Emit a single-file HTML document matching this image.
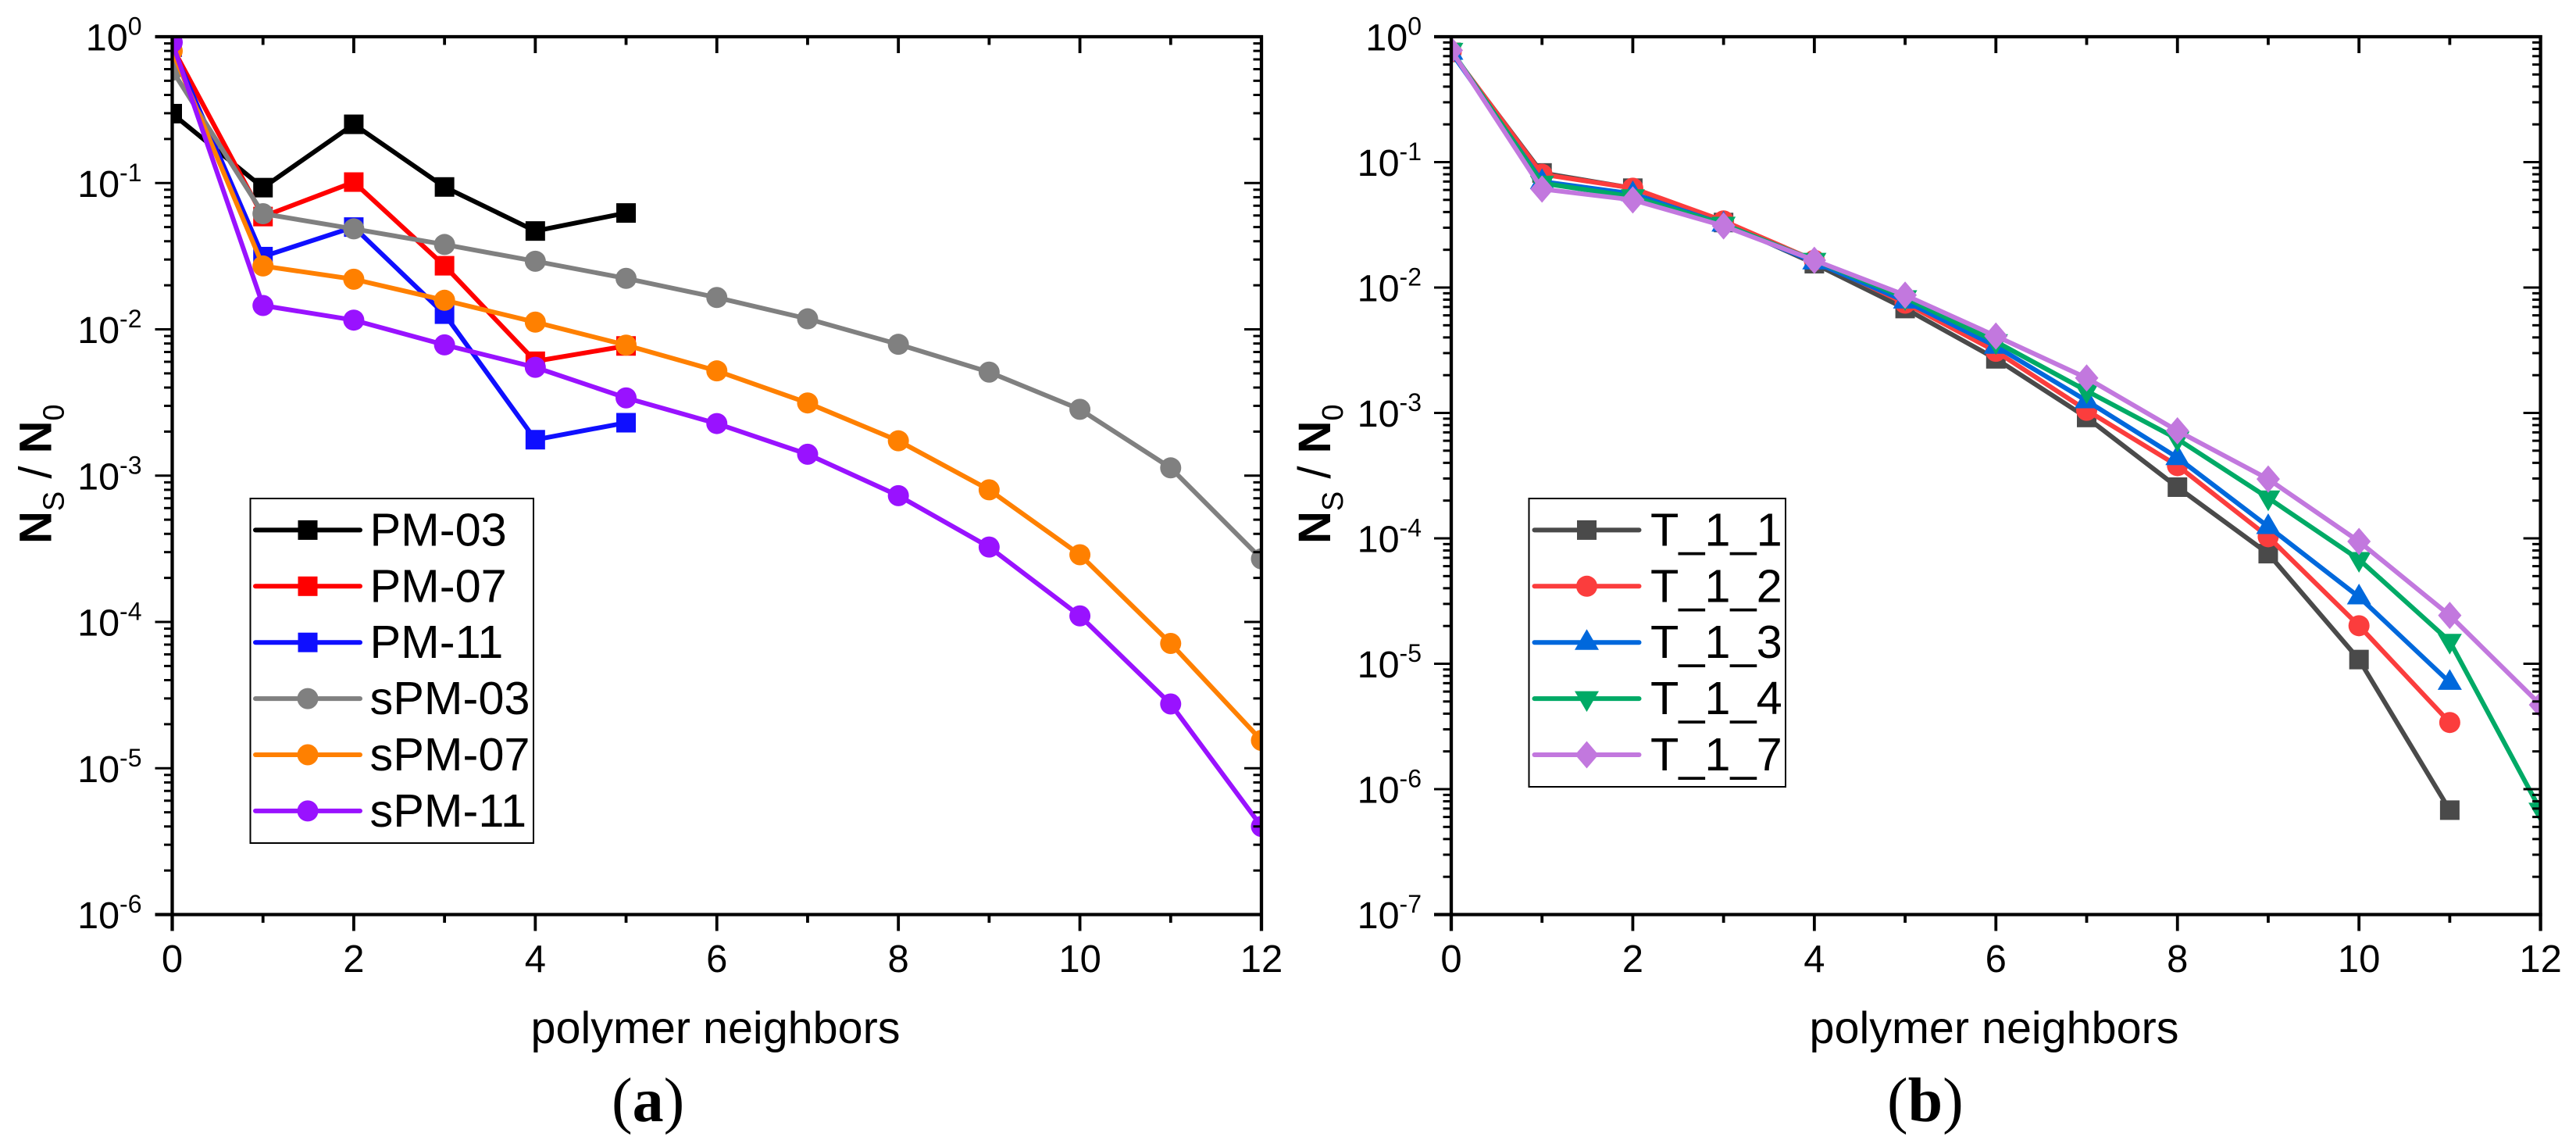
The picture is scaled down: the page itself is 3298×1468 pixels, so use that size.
<!DOCTYPE html>
<html lang="en">
<head>
<meta charset="utf-8">
<title>Polymer neighbors distribution</title>
<style>
html,body{margin:0;padding:0;background:#fff;width:3298px;height:1468px;overflow:hidden}
svg{display:block;font-family:"Liberation Sans",sans-serif}
</style>
</head>
<body>
<svg id="figure" xmlns="http://www.w3.org/2000/svg" width="3298" height="1468" viewBox="0 0 3298 1468">
<rect width="3298" height="1468" fill="#ffffff"/>
<g id="panel-a"></g>
<g id="panel-b"></g>
<text transform="translate(65.5,696) rotate(-90)" font-size="58"><tspan font-weight="bold">N</tspan><tspan font-size="38" dy="16">S</tspan><tspan dy="-16"> / </tspan><tspan font-weight="bold">N</tspan><tspan font-size="38" dy="16">0</tspan></text>
<text transform="translate(1703,696) rotate(-90)" font-size="58"><tspan font-weight="bold">N</tspan><tspan font-size="38" dy="16">S</tspan><tspan dy="-16"> / </tspan><tspan font-weight="bold">N</tspan><tspan font-size="38" dy="16">0</tspan></text>
<text x="916" y="1335" font-size="57.5" text-anchor="middle">polymer neighbors</text>
<text x="2553" y="1335" font-size="57.5" text-anchor="middle">polymer neighbors</text>
<text x="783" y="1435" font-size="80" style="font-family:'Liberation Serif',serif">(<tspan font-weight="bold">a</tspan>)</text>
<text x="2416" y="1435" font-size="80" style="font-family:'Liberation Serif',serif">(<tspan font-weight="bold">b</tspan>)</text>
</svg>
<script>
const xTicks = [0, 2, 4, 6, 8, 10, 12];
const xMinorTicks = [1, 3, 5, 7, 9, 11];
const neighbors = [0, 1, 2, 3, 4, 5, 6, 7, 8, 9, 10, 11, 12];

const panelAExponents = [0, -1, -2, -3, -4, -5, -6];
const panelBExponents = [0, -1, -2, -3, -4, -5, -6, -7];

const pm03 = [0.298, 0.093, 0.252, 0.094, 0.047, 0.0624];
const pm07 = [0.85, 0.059, 0.1015, 0.0272, 0.00605, 0.0077];
const pm11 = [0.85, 0.0314, 0.05, 0.0127, 0.00176, 0.0023];
const spm03 = [0.59, 0.0617, 0.0486, 0.038, 0.0292, 0.0223, 0.0165, 0.0118, 0.0079, 0.0051, 0.00284, 0.00113, 0.00027];
const spm07 = [0.8, 0.0271, 0.022, 0.0158, 0.0112, 0.0078, 0.0052, 0.00314, 0.00173, 0.0008, 0.000288, 0.0000713, 0.0000155];
const spm11 = [0.916, 0.01455, 0.01156, 0.00783, 0.0055, 0.0034, 0.00227, 0.0014, 0.00073, 0.000325, 0.00011, 0.0000275, 0.000004];

const t11 = [0.75, 0.082, 0.062, 0.033, 0.0155, 0.0068, 0.0027, 0.00092, 0.000256, 0.0000755, 0.0000108, 0.00000068];
const t12 = [0.76, 0.08, 0.062, 0.034, 0.0165, 0.0075, 0.0031, 0.00105, 0.00038, 0.000103, 0.0000201, 0.0000034];
const t13 = [0.75, 0.07, 0.056, 0.032, 0.016, 0.0078, 0.0034, 0.00125, 0.00044, 0.000124, 0.0000341, 0.0000071];
const t14 = [0.78, 0.068, 0.053, 0.032, 0.0165, 0.0083, 0.0037, 0.0015, 0.00062, 0.00021, 0.0000679, 0.0000151, 0.00000068];
const t17 = [0.78, 0.061, 0.05, 0.031, 0.0165, 0.0087, 0.0041, 0.0019, 0.00072, 0.000297, 0.0000944, 0.0000243, 0.0000047];

const panelANames = ['PM-03', 'PM-07', 'PM-11', 'sPM-03', 'sPM-07', 'sPM-11'];
const panelAValues = [pm03, pm07, pm11, spm03, spm07, spm11];
const panelAColors = ['#000000', '#ff0000', '#0f0fff', '#808080', '#ff8000', '#9912ff'];
const panelAShapes = ['square', 'square', 'square', 'circle', 'circle', 'circle'];

const panelBNames = ['T_1_1', 'T_1_2', 'T_1_3', 'T_1_4', 'T_1_7'];
const panelBValues = [t11, t12, t13, t14, t17];
const panelBColors = ['#4a4a4a', '#fb3d3d', '#0068dc', '#00aa66', '#c278de'];
const panelBShapes = ['square', 'circle', 'triangle-up', 'triangle-down', 'diamond'];

const NS = 'http://www.w3.org/2000/svg';

function mk(tag, attrs, parent) {
  const node = document.createElementNS(NS, tag);
  for (const k in attrs) node.setAttribute(k, attrs[k]);
  parent.appendChild(node);
  return node;
}

function drawMarker(shape, cx, cy, color, parent) {
  let m;
  if (shape === 'square') {
    m = mk('rect', {x: cx - 12.5, y: cy - 12.5, width: 25, height: 25, fill: color}, parent);
  } else if (shape === 'circle') {
    m = mk('circle', {cx: cx, cy: cy, r: 13.5, fill: color}, parent);
  } else if (shape === 'triangle-up') {
    m = mk('polygon', {points: (cx - 15.5) + ',' + (cy + 9.5) + ' ' + (cx + 15.5) + ',' + (cy + 9.5) + ' ' + cx + ',' + (cy - 17), fill: color}, parent);
  } else if (shape === 'triangle-down') {
    m = mk('polygon', {points: (cx - 15.5) + ',' + (cy - 9.5) + ' ' + (cx + 15.5) + ',' + (cy - 9.5) + ' ' + cx + ',' + (cy + 17), fill: color}, parent);
  } else {
    m = mk('polygon', {points: (cx - 15) + ',' + cy + ' ' + cx + ',' + (cy - 17.5) + ' ' + (cx + 15) + ',' + cy + ' ' + cx + ',' + (cy + 17.5), fill: color}, parent);
  }
  
  
  return m;
}

function drawPanel(cfg) {
  const root = document.getElementById(cfg.id);
  const L = cfg.left, R = cfg.right, T = 47, B = 1170.5;
  const decades = cfg.exponents.length - 1;
  const xScale = function (v) { return L + (v - 0) / 12 * (R - L); };
  const yScale = function (v) { return T + (-Math.log10(v)) / decades * (B - T); };

  const defs = mk('defs', {}, root);
  const clip = mk('clipPath', {id: cfg.id + '-clip'}, defs);
  mk('rect', {x: L, y: T, width: R - L, height: B - T}, clip);

  const plot = mk('g', {'clip-path': 'url(#' + cfg.id + '-clip)'}, root);
  
  

  cfg.values.forEach(function (vals, i) {
    const g = mk('g', {}, plot);
    
    
    const pts = vals.map(function (v, j) { return xScale(neighbors[j]) + ',' + yScale(v); }).join(' ');
    const line = mk('polyline', {points: pts, fill: 'none', stroke: cfg.colors[i], 'stroke-width': 6, 'stroke-linejoin': 'round'}, g);
    
    
    vals.forEach(function (v, j) {
      drawMarker(cfg.shapes[i], xScale(neighbors[j]), yScale(v), cfg.colors[i], g);
    });
  });

  const axes = mk('g', {stroke: '#000', fill: 'none'}, root);
  
  

  function seg(x1, y1, x2, y2, w, name) {
    const s = mk('line', {x1: x1, y1: y1, x2: x2, y2: y2, 'stroke-width': w}, axes);
    
    
    return s;
  }

  seg(L, T - 2, L, B + 21, 4.3, 'y-axis-line');
  seg(R, T - 2, R, B + 21, 4.3, 'y-axis-line-right');
  seg(L - 22, T, R + 2, T, 4.3, 'x-axis-line-top');
  seg(L - 22, B, R + 2, B, 4.3, 'x-axis-line');

  xTicks.forEach(function (v) {
    const x = xScale(v);
    seg(x, B, x, B + 21, 3.8, 'x-tick-major');
    seg(x, T, x, T + 21, 3.8, 'x-tick-major-top');
    const label = mk('text', {x: x, y: 1244, 'font-size': 49, 'text-anchor': 'middle', fill: '#000'}, root);
    
    
    label.textContent = String(v);
  });
  xMinorTicks.forEach(function (v) {
    const x = xScale(v);
    seg(x, B, x, B + 10.5, 3.8, 'x-tick-minor');
    seg(x, T, x, T + 10.5, 3.8, 'x-tick-minor-top');
  });

  cfg.exponents.forEach(function (e, k) {
    const y = yScale(Math.pow(10, e));
    seg(L - 22, y, L, y, 3, 'y-tick-major');
    seg(R - 22, y, R, y, 3, 'y-tick-major-right');
    if (k < decades) {
      [2, 3, 4, 5, 6, 7, 8, 9].forEach(function (mult) {
        const ym = yScale(mult * Math.pow(10, e - 1));
        seg(L - 10.5, ym, L, ym, 3, 'y-tick-minor');
        seg(R - 10.5, ym, R, ym, 3, 'y-tick-minor-right');
      });
    }
    const label = mk('text', {x: cfg.labelRight, y: y + 17.5, 'text-anchor': 'end', 'font-size': 48.5, fill: '#000'}, root);
    
    
    const base = mk('tspan', {}, label);
    base.textContent = '10';
    const sup = mk('tspan', {dy: -20, 'font-size': 32}, label);
    sup.textContent = String(e);
  });

  const lg = cfg.legend;
  const legend = mk('g', {}, root);
  
  
  const frame = mk('rect', {x: lg.x, y: 638, width: lg.w, height: lg.h, fill: '#fff', stroke: '#000', 'stroke-width': 2}, legend);
  
  
  cfg.names.forEach(function (n, i) {
    const y = 678.4 + i * 71.9;
    const entry = mk('g', {}, legend);
    
    
    const ln = mk('line', {x1: lg.lineX1, y1: y, x2: lg.lineX2, y2: y, stroke: cfg.colors[i], 'stroke-width': 6, 'stroke-linecap': 'round'}, entry);
    
    
    drawMarker(cfg.shapes[i], (lg.lineX1 + lg.lineX2) / 2, y, cfg.colors[i], entry);
    const tx = mk('text', {x: lg.textX, y: y + 20, 'font-size': 59.5, fill: '#000'}, entry);
    
    
    tx.textContent = n;
  });
}

drawPanel({
  id: 'panel-a', left: 220.5, right: 1615, labelRight: 181.5,
  exponents: panelAExponents, names: panelANames, values: panelAValues, colors: panelAColors, shapes: panelAShapes,
  legend: {x: 320.5, w: 362.5, h: 441, lineX1: 327, lineX2: 461, textX: 473.5}
});
drawPanel({
  id: 'panel-b', left: 1858, right: 3252.6, labelRight: 1820,
  exponents: panelBExponents, names: panelBNames, values: panelBValues, colors: panelBColors, shapes: panelBShapes,
  legend: {x: 1957.5, w: 328.5, h: 369, lineX1: 1964.5, lineX2: 2098.5, textX: 2113}
});
</script>
</body>
</html>
